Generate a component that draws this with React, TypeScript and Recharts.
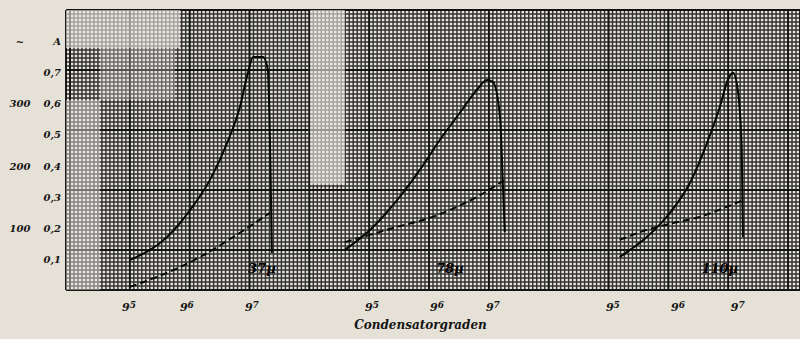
import React from "react";
import {
  LineChart,
  Line,
  XAxis,
  YAxis,
  CartesianGrid,
  ReferenceArea,
  ReferenceDot,
} from "recharts";

// x: position along the sheet in graph-paper cells; y: current in ampere
const solid37X = [16.0, 25.3, 31.1, 36.1, 40.4, 43.6, 45.6, 46.9, 49.4, 50.6, 51.6];
const solid37Y = [0.096, 0.17, 0.257, 0.354, 0.473, 0.588, 0.698, 0.749, 0.749, 0.707, 0.119];
const dashed37X = [16.0, 25.3, 33.6, 41.9, 51.1];
const dashed37Y = [0.01, 0.055, 0.106, 0.17, 0.248];

const solid78X = [69.9, 76.2, 83.0, 88.7, 93.7, 98.7, 103.0, 105.5, 107.0, 108.8, 109.5, 110.0];
const solid78Y = [0.129, 0.193, 0.289, 0.386, 0.482, 0.569, 0.643, 0.675, 0.669, 0.556, 0.344, 0.186];
const dashed78X = [69.9, 76.2, 83.0, 89.5, 96.2, 103.0, 110.0];
const dashed78Y = [0.154, 0.177, 0.203, 0.225, 0.257, 0.299, 0.354];

const solid110X = [138.8, 145.6, 151.4, 156.4, 160.7, 163.9, 165.9, 167.2, 168.4, 169.4, 169.7];
const solid110Y = [0.106, 0.17, 0.248, 0.344, 0.473, 0.588, 0.675, 0.698, 0.643, 0.45, 0.17];
const dashed110X = [138.8, 145.6, 152.1, 158.9, 165.6, 169.7];
const dashed110Y = [0.161, 0.193, 0.215, 0.235, 0.267, 0.289];

const curveLabels = ["37\u00b5", "78\u00b5", "110\u00b5"];
const curveLabelX = [49.1, 96.2, 163.9];
const curveLabelY = [0.071, 0.071, 0.071];

const xTicks = [15.8, 30.3, 46.6, 76.7, 93.0, 107.0, 137.1, 153.4, 168.4];
const xTickBase = ["9", "9", "9", "9", "9", "9", "9", "9", "9"];
const xTickSup = ["5", "6", "7", "5", "6", "7", "5", "6", "7"];
const xTitle = "Condensatorgraden";

const yTicks = [0.1, 0.2, 0.3, 0.4, 0.5, 0.6, 0.7, 0.8];
const yTickLabels = ["0,1", "0,2", "0,3", "0,4", "0,5", "0,6", "0,7", "A"];
const yLeftLabels = ["", "100", "", "200", "", "300", "", "~"];

// faded patches of the scanned sheet
const patchX1 = [0, 0, 8.5, 61.2];
const patchX2 = [28.6, 8.5, 27.3, 69.9];
const patchY1 = [0.778, 0, 0.611, 0.338];
const patchY2 = [0.9, 0.611, 0.778, 0.9];
const patchOpacity = [0.6, 0.45, 0.3, 0.6];

const X_MAX = 184;
const Y_MAX = 0.9;
const gridX = Array.from({ length: X_MAX + 1 }, (_, i) => i);
const gridY = Array.from({ length: 71 }, (_, i) => (i * Y_MAX) / 70);
const gridXMajor = gridX.filter((v) => v % 15 === 1);
const gridYMajor = gridY.filter((_, i) => i % 15 === 10);

const zip = (xs: number[], ys: number[]) => xs.map((x, i) => ({ x, y: ys[i] }));

const series = [
  { key: "s37", data: zip(solid37X, solid37Y), dashed: false },
  { key: "d37", data: zip(dashed37X, dashed37Y), dashed: true },
  { key: "s78", data: zip(solid78X, solid78Y), dashed: false },
  { key: "d78", data: zip(dashed78X, dashed78Y), dashed: true },
  { key: "s110", data: zip(solid110X, solid110Y), dashed: false },
  { key: "d110", data: zip(dashed110X, dashed110Y), dashed: true },
];

const hand = {
  fontFamily: "DejaVu Serif",
  fontStyle: "italic" as const,
  fontWeight: 700,
  fill: "#151515",
};

const YTick = (props: any) => {
  const { y, payload } = props;
  const i = yTicks.indexOf(payload.value);
  return (
    <g>
      <text x={61} y={y} dy={4} textAnchor="end" fontSize={10} {...hand}>
        {yTickLabels[i]}
      </text>
      {yLeftLabels[i] ? (
        <text x={20} y={y} dy={4} textAnchor="middle" fontSize={10} {...hand}>
          {yLeftLabels[i]}
        </text>
      ) : null}
    </g>
  );
};

const XTick = (props: any) => {
  const { x, y, index } = props;
  return (
    <text x={x} y={y + 13} textAnchor="middle" fontSize={11} {...hand}>
      {xTickBase[index]}
      <tspan fontSize={9} dy={-3}>
        {xTickSup[index]}
      </tspan>
    </text>
  );
};

export default function App() {
  return (
    <div style={{ width: 800, height: 339, background: "#e6e1d6" }}>
      <style>{`body{margin:0;background:#e6e1d6}`}</style>
      <LineChart
        width={800}
        height={339}
        margin={{ top: 10, right: 0, bottom: 19, left: 0 }}
      >
        <XAxis xAxisId="g" type="number" dataKey="x" domain={[0, X_MAX]} ticks={gridX} interval={0} allowDataOverflow hide />
        <YAxis yAxisId="g" type="number" domain={[0, Y_MAX]} ticks={gridY} interval={0} allowDataOverflow hide />
        <XAxis xAxisId="gm" type="number" dataKey="x" domain={[0, X_MAX]} ticks={gridXMajor} interval={0} allowDataOverflow hide />
        <YAxis yAxisId="gm" type="number" domain={[0, Y_MAX]} ticks={gridYMajor} interval={0} allowDataOverflow hide />
        <CartesianGrid
          xAxisId="g"
          yAxisId="g"
          stroke="#323232"
          strokeWidth={1.45}
          fill="#e9e6df"
          fillOpacity={1}
        />
        <CartesianGrid xAxisId="gm" yAxisId="gm" stroke="#141414" strokeWidth={1.8} />
        <XAxis
          type="number"
          dataKey="x"
          domain={[0, X_MAX]}
          ticks={xTicks}
          allowDataOverflow
          height={30}
          axisLine={false}
          tickLine={false}
          tick={<XTick />}
          interval={0}
          label={{
            content: (p: any) => {
              const vb = p.viewBox;
              return (
                <text
                  x={vb.x + vb.width * 0.483}
                  y={vb.y + vb.height + 9}
                  textAnchor="middle"
                  fontSize={12}
                  {...hand}
                >
                  {xTitle}
                </text>
              );
            },
          }}
        />
        <YAxis
          type="number"
          domain={[0, Y_MAX]}
          ticks={yTicks}
          allowDataOverflow
          width={66}
          axisLine={false}
          tickLine={false}
          tick={<YTick />}
          interval={0}
        />
        {patchX1.map((x1, i) => (
          <ReferenceArea
            key={"p" + i}
            x1={x1}
            x2={patchX2[i]}
            y1={patchY1[i]}
            y2={patchY2[i]}
            fill="#eeebe4"
            fillOpacity={patchOpacity[i]}
            stroke="none"
            ifOverflow="visible"
          />
        ))}
        {series.map((s) => (
          <Line
            key={s.key}
            data={s.data}
            dataKey="y"
            type="monotone"
            stroke="#050505"
            strokeWidth={s.dashed ? 1.9 : 2}
            strokeDasharray={s.dashed ? "7 4" : undefined}
            dot={false}
            activeDot={false}
            isAnimationActive={false}
          />
        ))}
        {curveLabels.map((t, i) => (
          <ReferenceDot
            key={t}
            x={curveLabelX[i]}
            y={curveLabelY[i]}
            r={0}
            stroke="none"
            fill="none"
            ifOverflow="visible"
            label={{
              content: (p: any) => {
                const vb = p.viewBox;
                const cx = vb.x + (vb.width || 0) / 2;
                const cy = vb.y + (vb.height || 0) / 2;
                return (
                  <text x={cx} y={cy} dy={5} textAnchor="middle" fontSize={13} {...hand} fill="#000">
                    {t}
                  </text>
                );
              },
            }}
          />
        ))}
      </LineChart>
    </div>
  );
}
